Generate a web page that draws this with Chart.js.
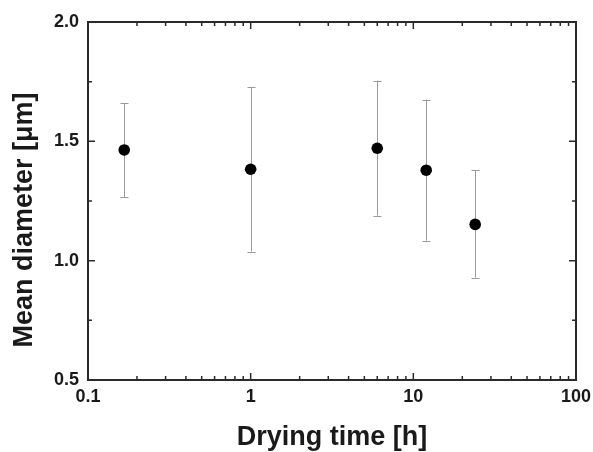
<!DOCTYPE html>
<html>
<head>
<meta charset="utf-8">
<script src="https://cdn.jsdelivr.net/npm/chart.js@4.4.1/dist/chart.umd.min.js"></script>
<style>
html,body{margin:0;padding:0;background:#fff;}
#wrap{width:593px;height:452px;}
</style>
</head>
<body>
<div id="wrap"><canvas id="c" width="593" height="452"></canvas></div>
<script>
const dryingTime = [0.167, 1, 6, 12, 24];
const meanDiameter = [1.464, 1.383, 1.471, 1.379, 1.152];
const errUpper = [1.659, 1.728, 1.754, 1.675, 1.379];
const errLower = [1.266, 1.038, 1.189, 1.084, 0.929];

const xMajorTicks = [0.1, 1, 10, 100];
const xTickLabels = ['0.1', '1', '10', '100'];
const xMinorTicks = [0.2,0.3,0.4,0.5,0.6,0.7,0.8,0.9,2,3,4,5,6,7,8,9,20,30,40,50,60,70,80,90];
const yMajorTicks = [0.5, 1.0, 1.5, 2.0];
const yTickLabels = ['0.5', '1.0', '1.5', '2.0'];
const yMinorTicks = [0.75, 1.25, 1.75];

const xTitle = 'Drying time [h]';
const yTitle = 'Mean diameter [\u03bcm]';

const FONT = 'Liberation Sans, Arial, Helvetica, sans-serif';
const AXIS_COLOR = '#2a2a2a';

const framePlugin = {
  id: 'frame',
  beforeDatasetsDraw(chart) {
    const ctx = chart.ctx;
    const xs = chart.scales.x, ys = chart.scales.y;
    ctx.save();
    ctx.strokeStyle = '#9a9a9a';
    ctx.lineWidth = 1;
    for (let i = 0; i < dryingTime.length; i++) {
      const px = Math.round(xs.getPixelForValue(dryingTime[i])) + 0.5;
      const pt = ys.getPixelForValue(errUpper[i]);
      const pb = ys.getPixelForValue(errLower[i]);
      ctx.beginPath();
      ctx.moveTo(px, pt); ctx.lineTo(px, pb);
      ctx.moveTo(px - 4, Math.round(pt) + 0.5); ctx.lineTo(px + 4, Math.round(pt) + 0.5);
      ctx.moveTo(px - 4, Math.round(pb) + 0.5); ctx.lineTo(px + 4, Math.round(pb) + 0.5);
      ctx.stroke();
    }
    ctx.restore();
  },
  afterDraw(chart) {
    const ctx = chart.ctx;
    const a = chart.chartArea;
    const xs = chart.scales.x, ys = chart.scales.y;
    ctx.save();
    ctx.strokeStyle = AXIS_COLOR;
    ctx.lineWidth = 2;
    ctx.strokeRect(a.left, a.top, a.right - a.left, a.bottom - a.top);
    ctx.lineWidth = 1.5;
    ctx.beginPath();
    const tick = (v, len, isX) => {
      if (isX) {
        const p = xs.getPixelForValue(v);
        ctx.moveTo(p, a.bottom); ctx.lineTo(p, a.bottom - len);
        ctx.moveTo(p, a.top); ctx.lineTo(p, a.top + len);
      } else {
        const p = ys.getPixelForValue(v);
        ctx.moveTo(a.left, p); ctx.lineTo(a.left + len, p);
        ctx.moveTo(a.right, p); ctx.lineTo(a.right - len, p);
      }
    };
    xMajorTicks.forEach(v => tick(v, 7, true));
    xMinorTicks.forEach(v => tick(v, 4, true));
    yMajorTicks.forEach(v => tick(v, 7, false));
    yMinorTicks.forEach(v => tick(v, 4, false));
    ctx.stroke();
    // y-axis title
    ctx.fillStyle = '#1a1a1a';
    ctx.font = 'bold 27px ' + FONT;
    ctx.textAlign = 'center';
    ctx.textBaseline = 'middle';
    ctx.translate(25, (a.top + a.bottom) / 2 + 19);
    ctx.rotate(-Math.PI / 2);
    ctx.fillText(yTitle, 0, 0);
    ctx.restore();
  }
};

new Chart(document.getElementById('c'), {
  type: 'scatter',
  data: {
    datasets: [{
      data: dryingTime.map((t, i) => ({x: t, y: meanDiameter[i]})),
      backgroundColor: '#000',
      borderColor: '#000',
      pointRadius: 5.8,
      pointHoverRadius: 5.8,
      borderWidth: 0
    }]
  },
  options: {
    responsive: false,
    animation: false,
    devicePixelRatio: 1,
    layout: {padding: {top: 22, right: 17, left: 0, bottom: 0}},
    plugins: {legend: {display: false}, tooltip: {enabled: false}},
    scales: {
      x: {
        type: 'logarithmic',
        min: 0.1, max: 100,
        afterBuildTicks: s => { s.ticks = xMajorTicks.map(v => ({value: v})); },
        afterFit: s => { s.height = 72; s.paddingLeft = 0; s.paddingRight = 0; },
        grid: {display: false, drawTicks: false},
        border: {display: false},
        ticks: {
          padding: 6,
          autoSkip: false,
          maxRotation: 0,
          color: '#1a1a1a',
          font: {family: FONT, size: 18, weight: 'bold'},
          callback: (v) => { const i = xMajorTicks.indexOf(v); return i >= 0 ? xTickLabels[i] : ''; }
        },
        title: {
          display: true,
          text: xTitle,
          color: '#1a1a1a',
          font: {family: FONT, size: 27, weight: 'bold'},
          padding: {top: 0, bottom: -2}
        }
      },
      y: {
        min: 0.5, max: 2.0,
        afterBuildTicks: s => { s.ticks = yMajorTicks.map(v => ({value: v})); },
        afterFit: s => { s.width = 88; s.paddingTop = 0; s.paddingBottom = 0; },
        grid: {display: false, drawTicks: false},
        border: {display: false},
        ticks: {
          padding: 9,
          color: '#1a1a1a',
          font: {family: FONT, size: 18, weight: 'bold'},
          callback: (v) => { const i = yMajorTicks.indexOf(v); return i >= 0 ? yTickLabels[i] : ''; }
        }
      }
    }
  },
  plugins: [framePlugin]
});
</script>
</body>
</html>
